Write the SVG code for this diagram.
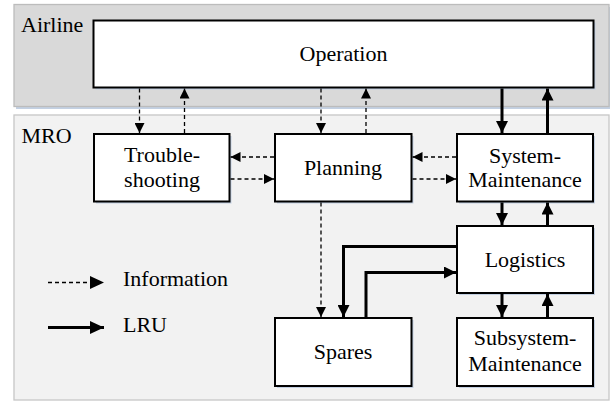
<svg xmlns="http://www.w3.org/2000/svg" width="610" height="403" viewBox="0 0 610 403">
<style>
.panel-a{fill:#d9d9d9;stroke:#bcbcbc;stroke-width:1.3}
.panel-m{fill:#f2f2f2;stroke:#c6c6c6;stroke-width:1.3}
.box{fill:#fff;stroke:#000;stroke-width:2}
.shadow{fill:#c3d0e2}
.info{fill:none;stroke:#000;stroke-width:1.3;stroke-dasharray:4 3}
.lru{fill:none;stroke:#000;stroke-width:3}
</style>
<defs>
<marker id="ah" markerUnits="userSpaceOnUse" markerWidth="10" markerHeight="10" refX="10" refY="5" orient="auto">
<path d="M0,0 L10,5 L0,10 z" fill="#000"/>
</marker>
<marker id="ahT" markerUnits="userSpaceOnUse" markerWidth="12" markerHeight="12" refX="12" refY="6" orient="auto">
<path d="M0,0 L12,6 L0,12 z" fill="#000"/>
</marker>
<marker id="ahL" markerUnits="userSpaceOnUse" markerWidth="14" markerHeight="14" refX="14" refY="7" orient="auto">
<path d="M0,0.5 L14,7 L0,13.5 z" fill="#000"/>
</marker>
</defs>

<g font-family="Liberation Serif" font-size="22" fill="#000">
<g id="airline">
<rect class="shadow" x="16" y="7" width="595" height="102"/>
<rect class="panel-a" x="14" y="4.5" width="595" height="102"/>
<text x="21" y="32">Airline</text>
</g>
<g id="mro">
<rect class="panel-m" x="14" y="115" width="595" height="285"/>
<text x="21.5" y="142.5">MRO</text>
</g>

<g id="operation">
<rect class="shadow" x="95.5" y="22.5" width="500" height="67"/>
<rect class="box" x="93.5" y="20.5" width="500" height="67"/>
<text x="343.5" y="61" text-anchor="middle">Operation</text>
</g>
<g id="troubleshooting">
<rect class="shadow" x="96" y="136" width="135.5" height="67.5"/>
<rect class="box" x="94" y="134" width="135.5" height="67.5"/>
<text x="162" y="162" text-anchor="middle">Trouble-</text>
<text x="162" y="187" text-anchor="middle">shooting</text>
</g>
<g id="planning">
<rect class="shadow" x="277" y="136" width="136.5" height="67.5"/>
<rect class="box" x="275" y="134" width="136.5" height="67.5"/>
<text x="343" y="175" text-anchor="middle">Planning</text>
</g>
<g id="system-maintenance">
<rect class="shadow" x="459" y="136" width="136" height="67.5"/>
<rect class="box" x="457" y="134" width="136" height="67.5"/>
<text x="525" y="162.5" text-anchor="middle">System-</text>
<text x="525" y="187" text-anchor="middle">Maintenance</text>
</g>
<g id="logistics">
<rect class="shadow" x="459" y="228" width="136" height="67"/>
<rect class="box" x="457" y="226" width="136" height="67"/>
<text x="525" y="266.5" text-anchor="middle">Logistics</text>
</g>
<g id="spares">
<rect class="shadow" x="277" y="320" width="136.5" height="68"/>
<rect class="box" x="275" y="318" width="136.5" height="68"/>
<text x="343" y="358.5" text-anchor="middle">Spares</text>
</g>
<g id="subsystem-maintenance">
<rect class="shadow" x="459" y="320" width="136" height="68"/>
<rect class="box" x="457" y="318" width="136" height="68"/>
<text x="525" y="345" text-anchor="middle">Subsystem-</text>
<text x="525" y="370.5" text-anchor="middle">Maintenance</text>
</g>

<g id="connectors">
<line class="info" x1="139.5" y1="88.5" x2="139.5" y2="133" marker-end="url(#ah)"/>
<line class="info" x1="184.5" y1="133" x2="184.5" y2="88.5" marker-end="url(#ah)"/>
<line class="info" x1="321" y1="88.5" x2="321" y2="133" marker-end="url(#ah)"/>
<line class="info" x1="366" y1="133" x2="366" y2="88.5" marker-end="url(#ah)"/>
<line class="info" x1="274" y1="157" x2="230.5" y2="157" marker-end="url(#ah)"/>
<line class="info" x1="230.5" y1="179" x2="274" y2="179" marker-end="url(#ah)"/>
<line class="info" x1="456" y1="157" x2="412.5" y2="157" marker-end="url(#ah)"/>
<line class="info" x1="412.5" y1="179" x2="456" y2="179" marker-end="url(#ah)"/>
<line class="info" x1="321" y1="202.5" x2="321" y2="317" marker-end="url(#ah)"/>

<line class="lru" x1="502" y1="88.5" x2="502" y2="133" marker-end="url(#ahT)"/>
<line class="lru" x1="547.5" y1="133" x2="547.5" y2="88.5" marker-end="url(#ahT)"/>
<line class="lru" x1="502" y1="202.5" x2="502" y2="225" marker-end="url(#ahT)"/>
<line class="lru" x1="547.5" y1="225" x2="547.5" y2="202.5" marker-end="url(#ahT)"/>
<line class="lru" x1="502" y1="294" x2="502" y2="317" marker-end="url(#ahT)"/>
<line class="lru" x1="547.5" y1="317" x2="547.5" y2="294" marker-end="url(#ahT)"/>
<path class="lru" d="M456,246.5 H343.5 V317" marker-end="url(#ahT)"/>
<path class="lru" d="M366,317 V272.5 H456" marker-end="url(#ahT)"/>
</g>

<g id="legend">
<line class="info" x1="48" y1="282.5" x2="104" y2="282.5" marker-end="url(#ahL)"/>
<text x="123" y="286">Information</text>
<line class="lru" x1="48" y1="327.5" x2="104" y2="327.5" marker-end="url(#ahL)"/>
<text x="123" y="331.5">LRU</text>
</g>
</g>
</svg>
